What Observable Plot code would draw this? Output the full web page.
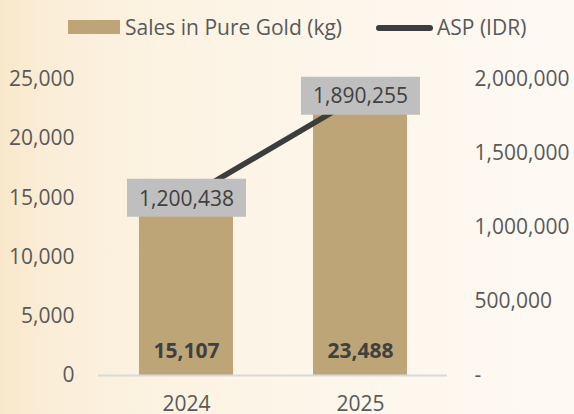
<!DOCTYPE html>
<html>
<head>
<meta charset="utf-8">
<script src="https://cdn.jsdelivr.net/npm/d3@7"></script>
<script src="https://cdn.jsdelivr.net/npm/@observablehq/plot@0.6"></script>
<style>
  html, body { margin: 0; padding: 0; }
  body {
    width: 574px; height: 414px; overflow: hidden;
    font-family: "Open Sans", sans-serif;
    background: linear-gradient(90deg, #f8e8cb 0%, #fbeed9 10%, #fcf3e3 30%, #fdf6eb 60%, #fef9f3 100%);
  }
  #legend { position: relative; width: 574px; height: 56px; color: #595959; font-size: 21px; }
  #legend .sw { position: absolute; }
  #legend .lb { position: absolute; line-height: 1; top: 17px; white-space: nowrap; }
  #chart svg { display: block; background: transparent; }
</style>
</head>
<body>
<div id="legend">
  <div class="sw" style="left:68px;top:20px;width:52px;height:14px;background:#bea577"></div>
  <div class="lb" style="left:125px">Sales in Pure Gold (kg)</div>
  <div class="sw" style="left:376px;top:25px;width:57px;height:5.5px;border-radius:3px;background:#3d3d3d"></div>
  <div class="lb" style="left:437px">ASP (IDR)</div>
</div>
<div id="chart"></div>
<script>
const years = ["2024", "2025"];
const sales = [15107, 23488];
const asp = [1200438, 1890255];
const leftTicks = [0, 5000, 10000, 15000, 20000, 25000];
const rightTicks = [0, 500000, 1000000, 1500000, 2000000];

const ratio = rightTicks[rightTicks.length - 1] / leftTicks[leftTicks.length - 1];
const data = years.map((y, i) => ({year: y, sales: sales[i], asp: asp[i], aspScaled: asp[i] / ratio}));
const fmt = d3.format(",");

const boxSymbol = {
  draw(ctx) { ctx.rect(-59.5, -19, 119, 38); }
};

const plot = Plot.plot({
  width: 574,
  height: 358,
  marginTop: 23,
  marginBottom: 39,
  marginLeft: 98,
  marginRight: 127,
  style: {fontFamily: "Open Sans, sans-serif", fontSize: "21px", background: "transparent"},
  x: {domain: years, paddingInner: 0.46, paddingOuter: 0.23, label: null},
  y: {domain: [0, leftTicks[leftTicks.length - 1]], label: null},
  marks: [
    Plot.barY(data, {x: "year", y: "sales", fill: "#bea577"}),
    Plot.ruleY([0], {stroke: "#d9d9d9", strokeWidth: 2}),
    Plot.line(data, {x: "year", y: "aspScaled", stroke: "#3d3d3d", strokeWidth: 5.5, strokeLinecap: "round"}),
    Plot.dot(data, {x: "year", y: "aspScaled", symbol: boxSymbol, fill: "#bfbfbf", stroke: "none", r: 10}),
    Plot.text(data, {x: "year", y: "aspScaled", text: d => fmt(d.asp), fill: "#404040", fontSize: 21, dy: 1}),
    Plot.text(data, {x: "year", y: 0, text: d => fmt(d.sales), fill: "#404040", fontSize: 21, fontWeight: "bold", dy: -24}),
    Plot.axisY({ticks: leftTicks, tickSize: 0, tickPadding: 24, tickFormat: d => fmt(d), fontSize: 21, color: "#595959", label: null}),
    Plot.axisY({anchor: "right", ticks: rightTicks.map(v => v / ratio), tickSize: 0, tickPadding: 27,
      tickFormat: d => d === 0 ? "-" : fmt(Math.round(d * ratio)), fontSize: 21, color: "#595959", label: null}),
    Plot.axisX({tickSize: 0, tickPadding: 21, fontSize: 21, color: "#595959", label: null})
  ]
});
document.getElementById("chart").appendChild(plot);
</script>
</body>
</html>
